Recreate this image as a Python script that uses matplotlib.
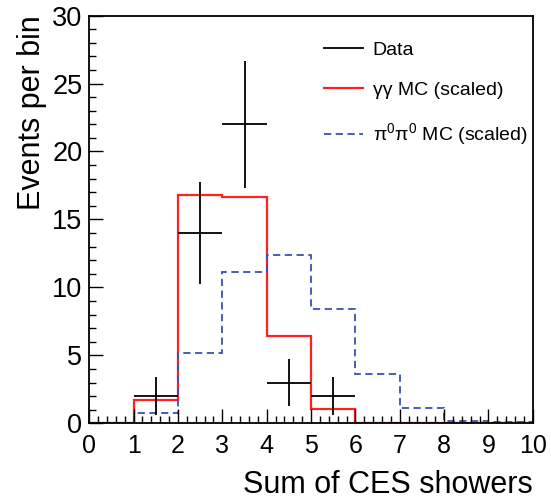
"""Sum of CES showers: data vs gamma-gamma and pi0-pi0 MC."""

import numpy as np
import matplotlib
matplotlib.use("Agg")
import matplotlib.pyplot as plt
from matplotlib.lines import Line2D
from matplotlib.ticker import MultipleLocator

plt.rcParams["font.family"] = ["Liberation Sans", "DejaVu Sans"]
plt.rcParams["mathtext.fontset"] = "custom"
plt.rcParams["mathtext.rm"] = "Liberation Sans"

bin_edges = np.arange(0, 11, 1)

# gamma-gamma MC (scaled), one value per bin
gg_mc = [0.05, 1.7, 16.8, 16.65, 6.4, 1.05, 0.05, 0.05, 0.05, 0.05]
# pi0 pi0 MC (scaled)
pp_mc = [0.05, 0.75, 5.15, 11.1, 12.4, 8.4, 3.6, 1.1, 0.2, 0.1]

# data points
data_x = [1.5, 2.5, 3.5, 4.5, 5.5]
data_y = [2, 14, 22, 3, 2]

red = "#ff2020"
blue = "#3a50b0"
dash = (0, (4, 2.5))

fig = plt.figure(figsize=(5.51, 5.01), dpi=100)
ax = fig.add_axes([0.162, 0.155, 0.805, 0.814])

ax.stairs(gg_mc, bin_edges, color=red, linewidth=1.6)
ax.stairs(pp_mc, bin_edges, color=blue, linewidth=1.3, linestyle=dash)
ax.errorbar(data_x, data_y, xerr=0.5, yerr=np.sqrt(data_y), fmt="none",
            ecolor="black", elinewidth=1.3)

ax.set_xlim(0, 10)
ax.set_ylim(0, 30)
ax.xaxis.set_major_locator(MultipleLocator(1))
ax.xaxis.set_minor_locator(MultipleLocator(0.2))
ax.yaxis.set_major_locator(MultipleLocator(5))
ax.yaxis.set_minor_locator(MultipleLocator(1))
ax.tick_params(which="both", direction="in", top=False, right=False)
ax.tick_params(which="major", length=10, width=1.0)
ax.tick_params(which="minor", length=5, width=1.0)
ax.tick_params(axis="x", labelsize=18, pad=8)
ax.tick_params(axis="y", labelsize=19.5, pad=5)
for s in ax.spines.values():
    s.set_linewidth(1.3)

ax.set_xlabel("Sum of CES showers", fontsize=22, loc="right", labelpad=8)
ax.set_ylabel("Events per bin", fontsize=22, loc="top", labelpad=4)

handles = [
    Line2D([], [], color="black", linewidth=1.3),
    Line2D([], [], color=red, linewidth=1.6),
    Line2D([], [], color=blue, linewidth=1.3, linestyle=dash),
]
labels = ["Data", "γγ MC (scaled)", r"π$^0$π$^0$ MC (scaled)"]
ax.legend(handles, labels, loc="upper left", bbox_to_anchor=(0.49, 0.98), frameon=False,
          fontsize=14, handlelength=2.0, labelspacing=1.15, handletextpad=0.5)

fig.savefig("out.png", dpi=100)
